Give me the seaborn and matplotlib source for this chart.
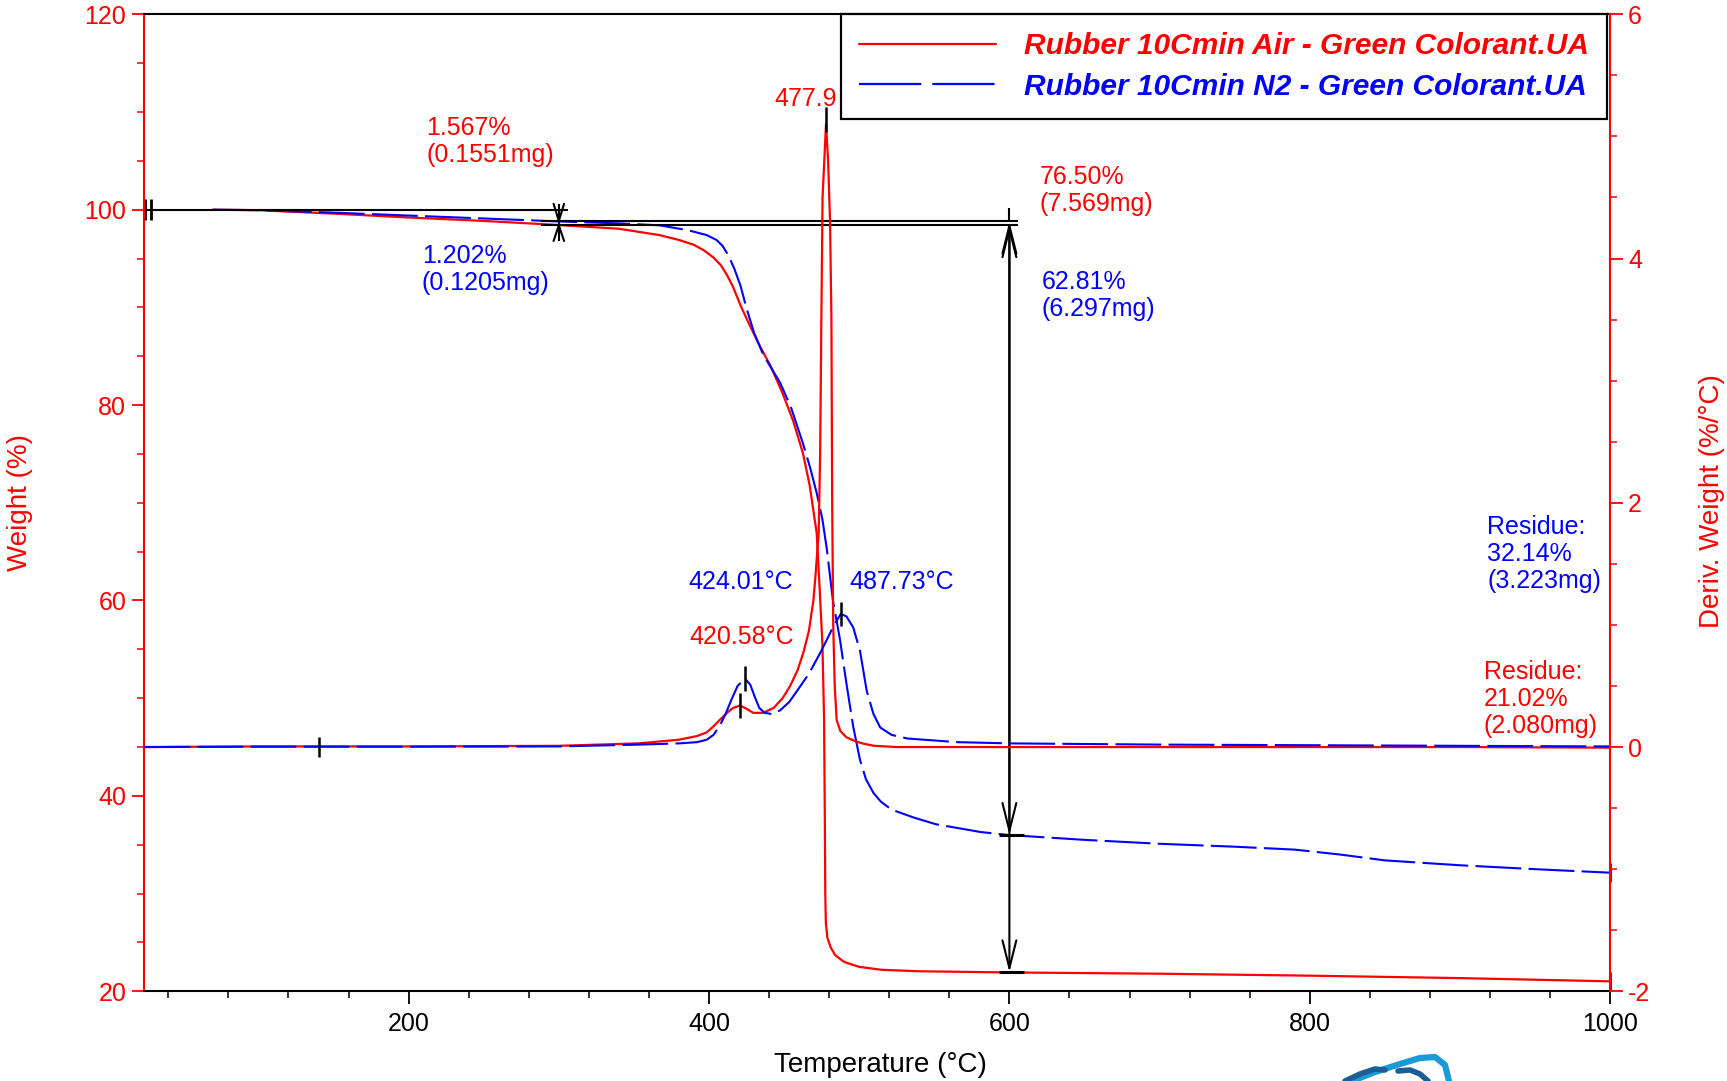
import matplotlib
matplotlib.use("Agg")
import matplotlib.pyplot as plt
import seaborn as sns
from matplotlib.ticker import MultipleLocator
from matplotlib.lines import Line2D
from matplotlib import font_manager as fm

# ---------------- data ----------------
temp_air_w = [69.5, 100, 150, 200, 250, 300, 340, 367, 380, 390, 397, 403, 408, 412, 416, 421,
              427, 434, 441, 449, 456, 462.5, 467, 471.7, 473.9, 475.5, 476.6, 477.1, 477.4,
              477.8, 478.8, 481, 484, 490, 500, 515, 540, 600, 700, 800, 900, 1000]
weight_air = [100, 99.95, 99.6, 99.2, 98.85, 98.43, 98.05, 97.4, 96.9, 96.4, 95.8, 95.1, 94.3,
              93.3, 92.1, 90.2, 88.2, 86.0, 84.0, 81.2, 78.4, 75.1, 71.8, 66.9, 60.5, 55.5,
              48, 38, 30, 27, 25.5, 24.5, 23.7, 23.0, 22.5, 22.2, 22.05, 21.93, 21.8, 21.6,
              21.35, 21.02]

temp_n2_w = [69.5, 100, 150, 200, 250, 300, 340, 367, 386, 398.5, 405, 409, 413, 417, 421,
             425, 430, 436, 441, 447.3, 454.5, 462.5, 467.5, 471.7, 475.5, 478.5, 482.5,
             487.2, 491.5, 496, 500.5, 504.5, 509.5, 514.5, 521.5, 536, 551, 566, 581, 600,
             650, 700, 750, 790, 820, 850, 900, 950, 1000]
weight_n2 = [100, 99.95, 99.7, 99.4, 99.1, 98.8, 98.6, 98.4, 97.9, 97.4, 96.9, 96.3, 95.3,
             93.9, 92.2, 89.9, 87.4, 85.2, 83.9, 82.3, 79.8, 76.1, 73.5, 71.0, 68.3, 65.2,
             60.0, 56.0, 51.5, 47.1, 43.7, 41.7, 40.3, 39.4, 38.6, 37.8, 37.1, 36.7, 36.3,
             35.99, 35.5, 35.1, 34.8, 34.5, 34.0, 33.4, 32.9, 32.5, 32.14]

temp_air_d = [24, 100, 200, 300, 353, 380, 392, 398.5, 403, 407, 412, 416, 420.6, 424, 429.5,
              436, 443, 449, 454, 459, 463, 466.5, 469.5, 471, 473, 474, 474.8, 475.6, 477.9,
              479.3, 480.6, 481.5, 482, 482.7, 483.7, 485, 487.5, 491.5, 497, 502, 510, 525,
              600, 700, 800, 900, 1000]
deriv_air = [0.0, 0.005, 0.005, 0.01, 0.03, 0.06, 0.09, 0.12, 0.17, 0.22, 0.28, 0.32, 0.34,
             0.32, 0.28, 0.28, 0.32, 0.4, 0.5, 0.63, 0.78, 0.95, 1.2, 1.42, 1.75, 2.4, 3.5,
             4.5, 5.1, 4.8, 4.3, 3.5, 2.0, 1.0, 0.5, 0.22, 0.13, 0.08, 0.05, 0.03, 0.01, 0.0,
             0.0, 0.0, 0.0, 0.0, -0.005]

temp_n2_d = [24, 100, 200, 300, 353, 380, 392, 398.5, 403, 407, 411, 415, 419, 424, 427.5,
             430.5, 433.5, 437, 442, 447.3, 453.5, 460.3, 466.5, 474, 478.5, 482.5, 487.7,
             491.5, 496, 500.5, 505, 509.5, 514, 521.5, 532, 565.5, 600, 700, 800, 900, 1000]
deriv_n2 = [0.0, 0.003, 0.003, 0.005, 0.02, 0.03, 0.04, 0.06, 0.1, 0.17, 0.27, 0.39, 0.5,
            0.56, 0.51, 0.41, 0.32, 0.28, 0.27, 0.30, 0.37, 0.49, 0.6, 0.77, 0.88, 0.98, 1.09,
            1.07, 0.98, 0.79, 0.46, 0.27, 0.16, 0.1, 0.07, 0.04, 0.03, 0.02, 0.015, 0.01, 0.005]

series_labels = ["Rubber 10Cmin Air - Green Colorant.UA",
                 "Rubber 10Cmin N2 - Green Colorant.UA"]
peak_temps = [420.58, 424.01, 487.73, 477.9]
peak_values = [0.34, 0.56, 1.09, 5.14]
residues = [21.02, 32.14]
step_losses = [98.43, 98.8]      # weight after first step (Air, N2)
final_at_600 = [21.93, 35.99]

RED = "#ff0000"
BLUE = "#0000ff"

# ---------------- style ----------------
sns.set_theme(style="ticks")
plt.rcParams["font.family"] = ["Liberation Sans", "DejaVu Sans"]
plt.rcParams["axes.unicode_minus"] = False

names = {f.name for f in fm.fontManager.ttflist}
if "Liberation Sans Narrow" in names:
    leg_prop = fm.FontProperties(family="Liberation Sans Narrow", weight="bold",
                                 style="italic", size=26)
    leg_space = 0.1
else:
    leg_prop = fm.FontProperties(family="Liberation Sans", weight="bold",
                                 style="italic", size=21.5)
    leg_space = 0.42

fig = plt.figure(figsize=(17.27, 10.81), dpi=100)
fig.patch.set_facecolor("white")
ax = fig.add_axes([0.08355, 0.08298, 0.8488, 0.9038])
ax2 = ax.twinx()

# weight curves
sns.lineplot(x=temp_air_w, y=weight_air, ax=ax, color=RED, linewidth=1.6,
             estimator=None, sort=False, legend=False)
sns.lineplot(x=temp_n2_w, y=weight_n2, ax=ax, color=BLUE, linewidth=1.5,
             estimator=None, sort=False, legend=False)
ax.lines[-1].set_linestyle((0, (22, 3.5)))

# derivative curves
sns.lineplot(x=temp_air_d, y=deriv_air, ax=ax2, color=RED, linewidth=1.6,
             estimator=None, sort=False, legend=False)
sns.lineplot(x=temp_n2_d, y=deriv_n2, ax=ax2, color=BLUE, linewidth=1.5,
             estimator=None, sort=False, legend=False)
ax2.lines[-1].set_linestyle((0, (22, 3.5)))

# limits / ticks
ax.set_xlim(24, 1000)
ax.set_ylim(20, 120)
ax2.set_ylim(-2, 6)
ax.xaxis.set_major_locator(MultipleLocator(200))
ax.xaxis.set_minor_locator(MultipleLocator(40))
ax.yaxis.set_major_locator(MultipleLocator(20))
ax.yaxis.set_minor_locator(MultipleLocator(5))
ax2.yaxis.set_major_locator(MultipleLocator(2))
ax2.yaxis.set_minor_locator(MultipleLocator(0.5))

ax.tick_params(axis="x", which="major", direction="out", length=9, width=1.3,
               color="black", labelcolor="black", labelsize=18, pad=6)
ax.tick_params(axis="x", which="minor", direction="out", length=5, width=1.1, color="black")
ax.tick_params(axis="y", which="major", direction="out", length=9, width=1.3,
               color=RED, labelcolor=RED, labelsize=18, pad=4, left=True)
ax.tick_params(axis="y", which="minor", direction="out", length=5, width=1.1, color=RED, left=True)
ax2.tick_params(axis="y", which="major", direction="out", length=9, width=1.3,
                color=RED, labelcolor=RED, labelsize=18, pad=4, right=True)
ax2.tick_params(axis="y", which="minor", direction="out", length=5, width=1.1, color=RED, right=True)

for a in (ax, ax2):
    for s in a.spines.values():
        s.set_linewidth(1.5)
ax.spines["left"].set_color(RED)
ax.spines["right"].set_visible(False)
ax.spines["top"].set_color("black")
ax.spines["bottom"].set_color("black")
ax2.spines["right"].set_color(RED)
ax2.spines["left"].set_visible(False)
ax2.spines["top"].set_visible(False)
ax2.spines["bottom"].set_visible(False)

ax.set_xlabel("Temperature (°C)", fontsize=20, color="black")
ax.xaxis.set_label_coords(0.502, -0.062)
ax.set_ylabel("Weight (%)", fontsize=20, color=RED)
ax.yaxis.set_label_coords(-0.076, 0.5)
ax2.set_ylabel("Deriv. Weight (%/°C)", fontsize=20, color=RED)
ax2.yaxis.set_label_coords(1.0606, 0.502)

# ---------------- analysis marks (black) ----------------
K = dict(color="black", lw=1.5)
ax.hlines(100, 24, 306, **K)
ax.vlines([24.6, 28.3], 98.9, 101.1, color="black", lw=2.0, clip_on=False)
ax.hlines(step_losses, 288, 606, **K)
# step marker at 300
ax.vlines(300, 96.8, 100.6, **K)
ax.plot([296.5, 300, 303.5], [100.6, 98.85, 100.6], **K)
ax.plot([296.5, 300, 303.5], [96.8, 98.4, 96.8], **K)
# arrows at 600 C
for top, bot in zip(step_losses, final_at_600):
    ax.annotate("", xy=(600, top), xytext=(600, bot),
                arrowprops=dict(arrowstyle="<->,head_length=1.0,head_width=0.25",
                                color="black", lw=1.5, shrinkA=0, shrinkB=0,
                                mutation_scale=20))
ax.vlines(600, 98.8, 100.2, **K)
ax.hlines(final_at_600, 593, 610, color="black", lw=2.2)
# residue ticks at 1000
ax.vlines([1000] * len(residues), [r - 1.0 for r in residues], [r + 1.0 for r in residues],
          color="black", lw=1.8, clip_on=False)
# peak ticks on derivative
ax2.vlines(peak_temps, [v - 0.1 for v in peak_values], [v + 0.1 for v in peak_values],
           color="black", lw=1.8)
ax2.vlines(140.6, -0.08, 0.08, color="black", lw=1.8)

# ---------------- annotations ----------------
TS = dict(fontsize=18, linespacing=1.15)
ax.text(211.7, 109.6, "1.567%\n(0.1551mg)", color=RED, va="top", ha="left", **TS)
ax.text(208.8, 96.5, "1.202%\n(0.1205mg)", color=BLUE, va="top", ha="left", **TS)
ax.text(485.0, 111.3, "477.9", color=RED, va="center", ha="right", fontsize=18)
ax.text(620.2, 104.6, "76.50%\n(7.569mg)", color=RED, va="top", ha="left", **TS)
ax.text(621.6, 93.8, "62.81%\n(6.297mg)", color=BLUE, va="top", ha="left", **TS)
ax.text(386.3, 61.9, "424.01°C", color=BLUE, va="center", ha="left", fontsize=18)
ax.text(387.0, 56.3, "420.58°C", color=RED, va="center", ha="left", fontsize=18)
ax.text(493.3, 61.9, "487.73°C", color=BLUE, va="center", ha="left", fontsize=18)
ax.text(918.0, 68.7, "Residue:\n32.14%\n(3.223mg)", color=BLUE, va="top", ha="left", **TS)
ax.text(915.8, 53.9, "Residue:\n21.02%\n(2.080mg)", color=RED, va="top", ha="left", **TS)

# ---------------- legend ----------------
handles = [Line2D([], [], color=RED, lw=1.6),
           Line2D([], [], color=BLUE, lw=1.6, linestyle=(0, (28, 5)))]
leg = ax2.legend(handles, series_labels, loc="upper right", bbox_to_anchor=(0.998, 1.0),
                 borderaxespad=0, prop=leg_prop, handlelength=4.6, handletextpad=0.95,
                 labelspacing=leg_space, borderpad=0.6, fancybox=False, framealpha=1,
                 edgecolor="black", labelcolor="linecolor")
leg.get_frame().set_linewidth(1.6)

# ---------------- partial logo at the bottom edge ----------------
def px(xs, ys):
    return [x / 1727 for x in xs], [1 - y / 1081 for y in ys]

lx, ly = px([1352, 1375, 1400, 1420, 1435, 1445, 1449], [1081, 1072, 1064, 1058, 1057, 1065, 1081])
fig.add_artist(Line2D(lx, ly, color="#1a9ad6", lw=4.5, transform=fig.transFigure,
                      solid_capstyle="round"))
dx, dy = px([1345, 1360, 1375, 1385], [1081, 1074, 1069, 1070])
fig.add_artist(Line2D(dx, dy, color="#1d5d96", lw=4, transform=fig.transFigure))
dx, dy = px([1398, 1410, 1420, 1428], [1071, 1070, 1074, 1081])
fig.add_artist(Line2D(dx, dy, color="#1d5d96", lw=4, transform=fig.transFigure))

fig.savefig("out.png", dpi=100, facecolor="white")
